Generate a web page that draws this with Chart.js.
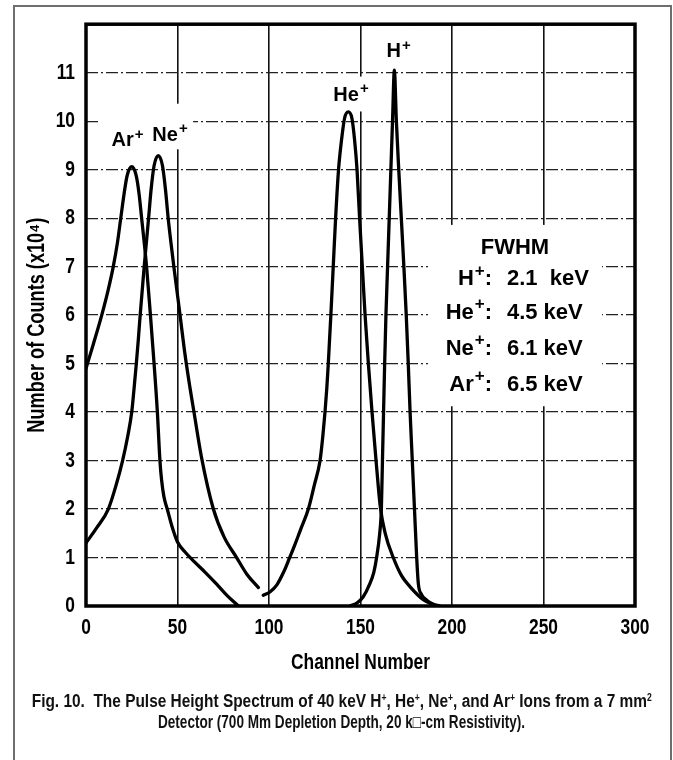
<!DOCTYPE html>
<html>
<head>
<meta charset="utf-8">
<title>Pulse Height Spectrum</title>
<script src="https://cdn.jsdelivr.net/npm/chart.js@4.4.1/dist/chart.umd.min.js"></script>
<style>
  html, body { margin: 0; padding: 0; background: #fff; }
  .page { position: relative; width: 673px; height: 760px; overflow: hidden; }
  .frame { position: absolute; left: 13px; top: 5px; width: 655px; height: 800px; border: 2px solid #6e6e6e; }
  #spectrum { position: absolute; left: 0; top: 0; }
  .caption {
    position: absolute; left: -300px; width: 1284px; top: 691px;
    text-align: center; color: #111; line-height: 19px; white-space: nowrap;
    font: bold 18px "Liberation Sans", Arial, sans-serif;
  }
  .caption span { display: inline-block; transform-origin: 50% 0; }
  .caption sup { font-size: 10px; vertical-align: 6px; line-height: 0; }
</style>
</head>
<body>
<div class="page">
  <div class="frame"></div>
  <canvas id="spectrum" width="673" height="760"></canvas>
  <div class="caption">
    <div><span class="captionLine">Fig. 10.&nbsp; The Pulse Height Spectrum of 40 keV H<sup>+</sup>, He<sup>+</sup>, Ne<sup>+</sup>, and Ar<sup>+</sup> Ions from a 7 mm<sup>2</sup></span></div>
    <div><span class="captionLine">Detector (700 Mm Depletion Depth, 20 k&#9633;-cm Resistivity).</span></div>
  </div>
</div>
<script>
// spectra (channel number, counts in units of 10^4)
var arChannel = [0, 4, 8.6, 12, 14.9, 17.2, 19, 20.8, 22.5, 25, 27.4, 29, 30.4, 31.8, 33.1, 35, 37.2, 39, 40.4, 41.3, 42.6, 44.4, 47, 50, 54, 59, 65, 71.4, 77, 83.3];
var arCounts = [4.9, 5.4, 6, 6.5, 7, 7.5, 8, 8.5, 8.88, 9.06, 8.88, 8.5, 8, 7.5, 7, 6.1, 5, 4, 3, 2.6, 2.25, 2, 1.64, 1.32, 1.12, 0.92, 0.7, 0.45, 0.22, 0];

var neChannel = [0, 6, 12.2, 16.5, 20, 22.8, 25, 26.3, 27.5, 28.6, 29.6, 30.7, 31.8, 33, 34.2, 35.6, 37.2, 39.5, 41.8, 43.4, 44.9, 46.4, 48, 49.7, 51.4, 53.7, 56.2, 59, 63.2, 69.6, 75.5, 82.3, 88, 94.2];
var neCounts = [1.3, 1.62, 2, 2.5, 3, 3.5, 4, 4.5, 5, 5.5, 6, 6.5, 7, 7.5, 8, 8.6, 9.08, 9.29, 9.08, 8.6, 8, 7.5, 7, 6.5, 6, 5.3, 4.65, 4, 3.05, 2, 1.42, 1, 0.65, 0.38];

var heChannel = [96.9, 100.5, 104.2, 108, 111, 114, 117, 121.5, 124.8, 127.9, 129.4, 130.6, 131.6, 132.4, 133.1, 133.8, 135.1, 136.4, 138, 139.6, 141.3, 143.3, 145.3, 146.8, 148.1, 149.5, 151, 152.5, 154.3, 156.3, 158.5, 160.8, 163.5, 167.9, 172.5, 177, 184.3, 191.6];
var heCounts = [0.22, 0.29, 0.43, 0.7, 0.97, 1.25, 1.55, 2, 2.5, 3, 3.5, 4, 4.5, 5, 5.5, 6, 7, 8, 9, 9.6, 10.06, 10.19, 10.06, 9.6, 9, 8, 7, 6, 5, 4, 3, 2.05, 1.5, 1, 0.62, 0.4, 0.13, 0];

var hChannel = [144.3, 148, 151.5, 155, 157.3, 158.8, 160.5, 161.4, 162, 162.6, 163.2, 163.9, 164.8, 165.7, 166.6, 167.5, 168.5, 169.6, 170.9, 172.3, 173.7, 175, 176.1, 177.1, 178.3, 179.5, 180.7, 181.6, 183.3, 186.2, 189.5, 193.4];
var hCounts = [0, 0.06, 0.19, 0.45, 0.7, 1, 1.5, 2, 3, 4, 5, 6, 7, 8, 9, 10, 11.05, 10, 9, 8, 7, 6, 5, 4, 3, 2, 1, 0.46, 0.24, 0.12, 0.04, 0];

// peak labels
var peakIons = ['Ar', 'Ne', 'He', 'H'];
var peakLabelChannel = [22.7, 45.9, 144.8, 170.8];
var peakLabelCounts = [9.48, 9.6, 10.42, 11.32];

// FWHM table
var fwhmIons = ['H', 'He', 'Ne', 'Ar'];
var fwhmValues = ['2.1  keV', '4.5 keV', '6.1 keV', '6.5 keV'];
var fwhmRowCounts = [6.74, 6.04, 5.3, 4.56];

var family = '"Liberation Sans", Arial, sans-serif';
var condensed = 0.79;   // axis lettering is a condensed face in the original

toPoints = (xs, ys) => xs.map((x, i) => ({ x: x, y: ys[i] }));

// white patches behind the labels, in data units: [x0, x1, y0, y1]
var labelPatches = [
    [6.6, 58.5, 9.42, 10.36],
    [135, 156, 10.2, 10.92],
    [186.9, 282, 4.12, 7.86]
];

drawIon = (ctx, name, x, y, size, align) => {
    ctx.font = `bold ${size}px ${family}`;
    let w1 = ctx.measureText(name).width;
    let supSize = Math.round(size * 0.75);
    ctx.font = `bold ${supSize}px ${family}`;
    let w2 = ctx.measureText('+').width;
    let total = w1 + w2 + 1;
    let left = x;
    if (align == 'center') left = x - total / 2;
    if (align == 'right') left = x - total;
    ctx.textAlign = 'left';
    ctx.font = `bold ${size}px ${family}`;
    ctx.fillText(name, left, y);
    ctx.font = `bold ${supSize}px ${family}`;
    ctx.fillText('+', left + w1 + 1, y - size * 0.38);
    return left + total;
};

// squeeze the text chart.js draws for the axes
var narrowAxisText = {
    id: 'narrowAxisText',
    beforeDraw: function (chart) {
        const ctx = chart.ctx;
        const plain = CanvasRenderingContext2D.prototype.fillText;
        ctx.fillText = function (text, x, y, maxWidth) {
            this.save();
            this.translate(x, y);
            this.scale(condensed, 1);
            if (maxWidth === undefined) plain.call(this, text, 0, 0);
            else plain.call(this, text, 0, 0, maxWidth / condensed);
            this.restore();
        };
    },
    beforeDatasetsDraw: function (chart) {
        delete chart.ctx.fillText;
    }
};

var annotations = {
    id: 'annotations',
    beforeDatasetsDraw: function (chart) {
        const ctx = chart.ctx;
        const xs = chart.scales.x;
        const ys = chart.scales.y;
        ctx.save();
        ctx.fillStyle = '#fff';
        labelPatches.map(function (p) {
            let x0 = xs.getPixelForValue(p[0]);
            let x1 = xs.getPixelForValue(p[1]);
            let y0 = ys.getPixelForValue(p[3]);
            let y1 = ys.getPixelForValue(p[2]);
            ctx.fillRect(x0, y0, x1 - x0, y1 - y0);
        });
        ctx.restore();
    },
    afterDatasetsDraw: function (chart) {
        const ctx = chart.ctx;
        const xs = chart.scales.x;
        const ys = chart.scales.y;
        const area = chart.chartArea;
        ctx.save();

        // heavy frame round the plot
        ctx.strokeStyle = '#000';
        ctx.lineWidth = 3.5;
        ctx.strokeRect(area.left, area.top, area.right - area.left, area.bottom - area.top);

        ctx.fillStyle = '#000';
        ctx.textBaseline = 'alphabetic';
        for (let i = 0; i < peakIons.length; i++) {
            drawIon(ctx, peakIons[i], xs.getPixelForValue(peakLabelChannel[i]), ys.getPixelForValue(peakLabelCounts[i]), 20, 'center');
        }

        ctx.textBaseline = 'middle';
        ctx.textAlign = 'center';
        ctx.font = `bold 22px ${family}`;
        ctx.fillText('FWHM', xs.getPixelForValue(234.4), ys.getPixelForValue(7.39));

        let colonX = xs.getPixelForValue(221.9);
        let valueX = xs.getPixelForValue(230);
        for (let i = 0; i < fwhmIons.length; i++) {
            let y = ys.getPixelForValue(fwhmRowCounts[i]);
            ctx.font = `bold 22px ${family}`;
            let cw = ctx.measureText(':').width;
            let end = drawIon(ctx, fwhmIons[i], colonX - cw, y, 22, 'right');
            ctx.font = `bold 22px ${family}`;
            ctx.textAlign = 'left';
            ctx.fillText(':', end, y);
            ctx.fillText(fwhmValues[i], valueX, y);
        }
        ctx.restore();
    }
};

new Chart(document.getElementById('spectrum'), {
    type: 'line',
    data: {
        datasets: [
            { label: 'Ar+', data: toPoints(arChannel, arCounts) },
            { label: 'Ne+', data: toPoints(neChannel, neCounts) },
            { label: 'He+', data: toPoints(heChannel, heCounts) },
            { label: 'H+', data: toPoints(hChannel, hCounts) }
        ]
    },
    options: {
        responsive: false,
        devicePixelRatio: 1,
        animation: false,
        layout: { padding: { top: 20, right: 38, bottom: 0, left: 0 } },
        elements: {
            point: { radius: 0, hoverRadius: 0 },
            line: {
                borderColor: '#000', borderWidth: 3.3, fill: false,
                cubicInterpolationMode: 'monotone', borderJoinStyle: 'round', borderCapStyle: 'round'
            }
        },
        plugins: {
            legend: { display: false },
            tooltip: { enabled: false }
        },
        scales: {
            x: {
                type: 'linear',
                min: 0,
                max: 300,
                ticks: { stepSize: 50, padding: 9, color: '#000', maxRotation: 0, font: { family: family, size: 22, weight: 'bold' } },
                grid: { color: '#111', lineWidth: 1.6, drawTicks: false },
                border: { display: false },
                title: {
                    display: true,
                    text: 'Channel Number',
                    color: '#000',
                    font: { family: family, size: 22, weight: 'bold' },
                    padding: { top: 0, bottom: 84 }
                },
                afterFit: (scale) => { scale.height = 154; }
            },
            y: {
                type: 'linear',
                min: 0,
                max: 12,
                ticks: {
                    stepSize: 1, padding: 11, color: '#000',
                    font: { family: family, size: 22, weight: 'bold' },
                    callback: (v) => v == 12 ? '' : v
                },
                grid: { color: '#222', lineWidth: 1.2, drawTicks: false },
                border: { display: false, dash: [12, 3, 2, 3] },
                title: {
                    display: true,
                    // trailing spaces push the lettering down to where it sits in the original
                    text: 'Number of Counts (x10\u2074)    ',
                    color: '#000',
                    font: { family: family, size: 23, weight: 'bold' },
                    padding: { top: 24, bottom: 0 }
                },
                afterFit: (scale) => { scale.width = 86; }
            }
        }
    },
    plugins: [narrowAxisText, annotations]
});

// the caption is set in a condensed face too: squeeze each line to the original width
var captionWidths = [620, 367];
fitCaption = () => {
    document.querySelectorAll('.captionLine').forEach(function (line, i) {
        let width = line.getBoundingClientRect().width;
        line.style.transform = `scaleX(${captionWidths[i] / width})`;
    });
};
fitCaption();
</script>
</body>
</html>
